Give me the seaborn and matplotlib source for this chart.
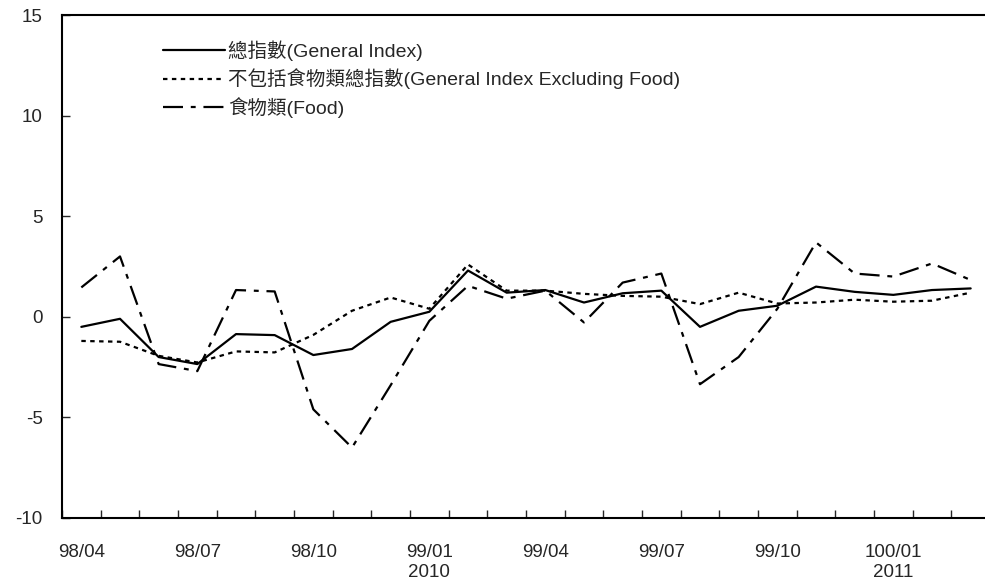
import matplotlib
matplotlib.use('Agg')
import matplotlib.pyplot as plt
import pandas as pd
import seaborn as sns
import numpy as np

# monthly rates (%), 98/04 .. 100/03
months = ['98/04', '98/05', '98/06', '98/07', '98/08', '98/09', '98/10', '98/11',
          '98/12', '99/01', '99/02', '99/03', '99/04', '99/05', '99/06', '99/07',
          '99/08', '99/09', '99/10', '99/11', '99/12', '100/01', '100/02', '100/03']
years = {'99/01': '2010', '100/01': '2011'}

general = [-0.5, -0.1, -2.0, -2.35, -0.86, -0.91, -1.9, -1.6, -0.25, 0.25, 2.3, 1.2,
           1.33, 0.71, 1.17, 1.3, -0.5, 0.3, 0.55, 1.5, 1.24, 1.09, 1.33, 1.41]
excl_food = [-1.2, -1.24, -1.94, -2.27, -1.72, -1.77, -0.9, 0.3, 0.96, 0.4, 2.6, 1.3,
             1.3, 1.14, 1.04, 1.0, 0.63, 1.2, 0.66, 0.71, 0.85, 0.75, 0.8, 1.2]
food = [1.46, 3.0, -2.35, -2.7, 1.33, 1.26, -4.6, -6.5, -3.4, -0.2, 1.54, 0.9,
        1.3, -0.28, 1.7, 2.15, -3.35, -2.0, 0.4, 3.7, 2.15, 2.0, 2.65, 1.83]

labels = ['總指數(General Index)',
          '不包括食物類總指數(General Index Excluding Food)',
          '食物類(Food)']

sns.set_style('white')
plt.rcParams['font.family'] = ['Liberation Sans', 'Noto Sans CJK TC']
plt.rcParams['axes.unicode_minus'] = False

pos = np.arange(len(months))
data = pd.DataFrame({'pos': pos, 'general': general, 'excl': excl_food, 'food': food})

fig = plt.figure(figsize=(9.85, 5.81), dpi=100)
ax = fig.add_axes([62 / 985, 1 - 518 / 581, 928 / 985, 503 / 581])

sns.lineplot(data=data, x='pos', y='general', ax=ax, color='black', lw=1.6,
             label=labels[0])
sns.lineplot(data=data, x='pos', y='excl', ax=ax, color='black', lw=1.6,
             linestyle=(0, (2, 2)), label=labels[1])
sns.lineplot(data=data, x='pos', y='food', ax=ax, color='black', lw=1.6,
             linestyle=(0, (9, 3.5, 2.2, 3.5)), label=labels[2])

ax.set_xlim(-0.5, len(months) - 0.5)
ax.set_ylim(-10, 15)
ax.set_yticks([-10, -5, 0, 5, 10, 15])
ax.set_xlabel('')
ax.set_ylabel('')

# labels every 3 months at category centres, tick marks between categories
shown = pos[::3]
ax.set_xticks(shown)
ax.set_xticklabels([m + ('\n' + years[m] if m in years else '') for m in np.array(months)[shown]])
ax.set_xticks(np.arange(len(months) + 1) - 0.5, minor=True)
ax.tick_params(axis='x', which='major', length=0, pad=19, labelsize=13.5)
ax.tick_params(axis='x', which='minor', length=6, width=1, direction='in', bottom=True)
ax.tick_params(axis='y', length=6, width=1, direction='in', left=True, pad=14, labelsize=13.5)

for s in ['left', 'bottom', 'top']:
    ax.spines[s].set_color('black')
    ax.spines[s].set_linewidth(1.5)
ax.spines['right'].set_visible(False)

leg = ax.legend(loc='upper left', bbox_to_anchor=(163 / 985, 1 - 40 / 581),
                bbox_transform=fig.transFigure, frameon=False, fontsize=14,
                handlelength=3.2, handletextpad=0.15, labelspacing=0.4,
                borderpad=0, borderaxespad=0)

fig.savefig('out.png', dpi=100)
